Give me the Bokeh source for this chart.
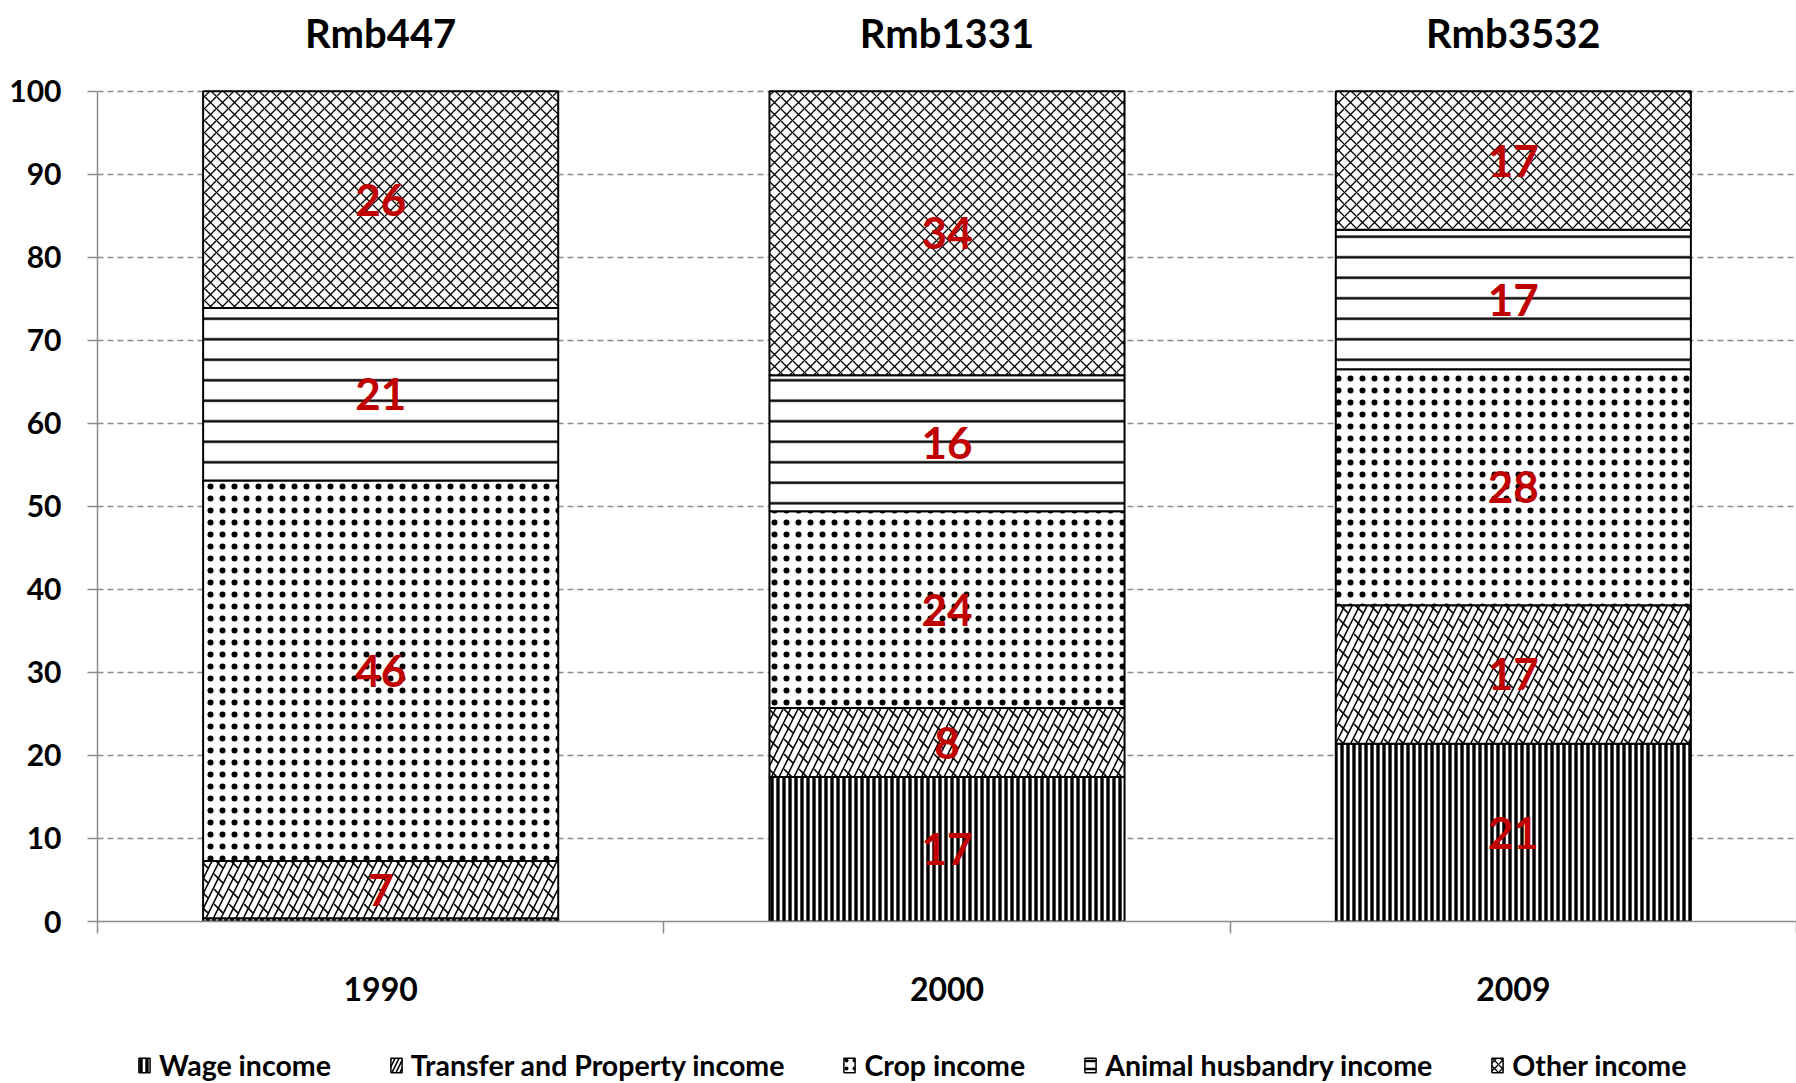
from bokeh.plotting import figure
from bokeh.layouts import column
from bokeh.models import ColumnDataSource, Range1d, FixedTicker, Legend, LegendItem
from bokeh.core.properties import value
from bokeh.embed import file_html
from bokeh.resources import INLINE

# ---- data ----
years = ["1990", "2000", "2009"]
totals = ["Rmb447", "Rmb1331", "Rmb3532"]
series_names = ["Wage income", "Transfer and Property income", "Crop income",
                "Animal husbandry income", "Other income"]
wage = [0.4, 17.4, 21.4]
transfer = [6.9, 8.3, 16.7]
crop = [45.8, 23.7, 28.4]
animal = [20.8, 16.4, 16.8]
other = [26.1, 34.2, 16.7]
y_ticks = list(range(0, 101, 10))

FONT = "Lato"
RED = "#C00000"
GREY = "#8c8c8c"

series_values = [wage, transfer, crop, animal, other]
styles = [
    dict(hatch_pattern="|", hatch_scale=6, hatch_weight=3.4),
    dict(hatch_pattern="/", hatch_scale=15, hatch_weight=1.6),
    dict(hatch_pattern=".", hatch_scale=12, hatch_weight=0.3),
    dict(hatch_pattern="-", hatch_scale=20.5, hatch_weight=2.4),
    dict(hatch_pattern="x", hatch_scale=12, hatch_weight=1.3),
]
overlay_style = dict(hatch_pattern="`", hatch_scale=15, hatch_weight=1.6)

x_pos = [i + 0.5 for i in range(len(years))]
BAR_W = 0.627

MAIN_H = 1045
FRAME_BOTTOM = 921
TOP_PX = 90.7
y_top = 100 + TOP_PX * 100 / (FRAME_BOTTOM - TOP_PX)

p = figure(width=1796, height=MAIN_H, x_range=Range1d(0, len(years)),
           y_range=Range1d(0, y_top),
           output_backend="svg", toolbar_location=None,
           min_border_left=97, min_border_right=0, min_border_top=0,
           min_border_bottom=MAIN_H - FRAME_BOTTOM)
p.outline_line_color = None
p.background_fill_color = "white"
p.border_fill_color = "white"

# grid
p.xgrid.visible = False
p.ygrid.ticker = FixedTicker(ticks=y_ticks)
p.ygrid.grid_line_color = GREY
p.ygrid.grid_line_dash = "6 4"
p.ygrid.grid_line_width = 1.5

# y axis
p.yaxis.ticker = FixedTicker(ticks=y_ticks)
p.yaxis.bounds = (0, 100)
p.yaxis.axis_line_color = GREY
p.yaxis.axis_line_width = 1.5
p.yaxis.major_tick_line_color = GREY
p.yaxis.major_tick_line_width = 1.5
p.yaxis.major_tick_out = 10
p.yaxis.major_tick_in = 0
p.yaxis.minor_tick_line_color = None
p.yaxis.major_label_text_font = FONT
p.yaxis.major_label_text_font_style = "bold"
p.yaxis.major_label_text_font_size = "30px"
p.yaxis.major_label_text_color = "black"
p.yaxis.major_label_standoff = 26

# x axis (labels at centres, ticks at boundaries)
p.xaxis.ticker = FixedTicker(ticks=x_pos, minor_ticks=list(range(len(years) + 1)))
p.xaxis.major_label_overrides = {x: y for x, y in zip(x_pos, years)}
p.xaxis.axis_line_color = GREY
p.xaxis.axis_line_width = 1.5
p.xaxis.major_tick_line_color = None
p.xaxis.major_tick_out = 0
p.xaxis.major_tick_in = 0
p.xaxis.minor_tick_line_color = GREY
p.xaxis.minor_tick_line_width = 1.5
p.xaxis.minor_tick_out = 12
p.xaxis.minor_tick_in = 0
p.xaxis.major_label_text_font = FONT
p.xaxis.major_label_text_font_style = "bold"
p.xaxis.major_label_text_font_size = "32px"
p.xaxis.major_label_text_color = "black"
p.xaxis.major_label_standoff = 43

# stacked bars
bottoms = [0.0] * len(years)
sources = []
label_x, label_y, label_t = [], [], []
for name, vals, st in zip(series_names, series_values, styles):
    tops = [b + v for b, v in zip(bottoms, vals)]
    src = ColumnDataSource(dict(x=x_pos, bottom=bottoms, top=tops))
    sources.append(src)
    p.vbar(x="x", width=BAR_W, bottom="bottom", top="top", source=src,
           fill_color="white", line_color="black", line_width=2,
           hatch_color="black", **st)
    if st["hatch_pattern"] == "/":
        # brick-like overlay of short opposite dashes
        p.vbar(x="x", width=BAR_W, bottom="bottom", top="top", source=src,
               fill_alpha=0, line_alpha=0, hatch_color="black", **overlay_style)
    for x, b, v in zip(x_pos, bottoms, vals):
        if v >= 1:
            label_x.append(x)
            label_y.append(b + v / 2)
            label_t.append(str(int(v + 0.5)))
    bottoms = tops

lab_src = ColumnDataSource(dict(x=label_x, y=label_y, t=label_t))
p.text(x="x", y="y", text="t", source=lab_src, text_align="center", text_baseline="middle",
       text_color=RED, text_font=value(FONT), text_font_style="bold", text_font_size="44px")

# totals above bars
tot_src = ColumnDataSource(dict(x=x_pos, y=[100] * len(years), t=totals))
p.text(x="x", y="y", text="t", source=tot_src, y_offset=-58,
       text_align="center", text_baseline="middle",
       text_font=value(FONT), text_font_style="bold", text_font_size="40px",
       text_color="black")

# ---- legend strip (same series; its ranges show none of the bars) ----
LEG_H = 38
q = figure(width=1796, height=LEG_H, x_range=Range1d(-1001, -1000), y_range=Range1d(1000, 1001),
           output_backend="svg", toolbar_location=None, x_axis_type=None, y_axis_type=None,
           min_border_left=0, min_border_right=0, min_border_top=0, min_border_bottom=0)
q.outline_line_color = None
q.grid.visible = False
items = []
for name, st, src in zip(series_names, styles, sources):
    st_leg = dict(st, hatch_scale=min(st["hatch_scale"], 8))
    r = q.vbar(x="x", width=BAR_W, bottom="bottom", top="top", source=src,
               fill_color="white", line_color="black", line_width=1.5,
               hatch_color="black", **st_leg)
    items.append(LegendItem(label=name, renderers=[r]))
legend = Legend(items=items, orientation="horizontal", location=(40, 1),
                label_text_font=FONT, label_text_font_style="bold", label_text_font_size="28.5px",
                label_text_color="black", glyph_width=14, glyph_height=18, spacing=58,
                label_standoff=8, border_line_color=None, background_fill_alpha=0,
                padding=0, margin=0)
q.add_layout(legend, "center")

layout = column(p, q, spacing=0)
open("out.html", "w").write(file_html(layout, INLINE))
